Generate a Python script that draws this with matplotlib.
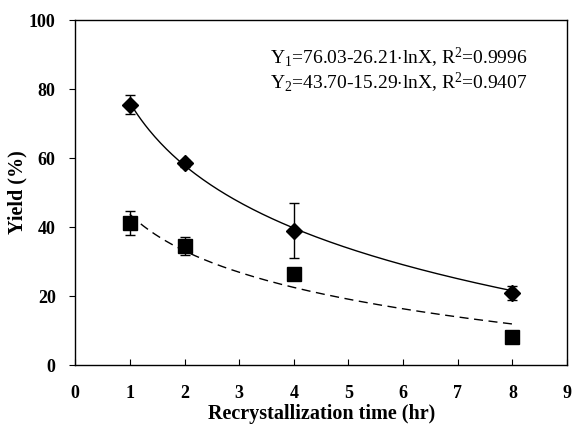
import numpy as np
import matplotlib
matplotlib.use("Agg")
import matplotlib.pyplot as plt

# measured points
time_hr = [1, 2, 4, 8]
yield_1 = [75.5, 58.5, 39.0, 21.0]
err_1 = [2.8, 1.0, 8.0, 2.0]
yield_2 = [41.2, 34.5, 26.3, 8.0]
err_2 = [3.5, 2.5, 1.2, 0.6]

# log fits shown on the chart
fit_1 = (76.03, 26.21)
fit_2 = (43.70, 15.29)

xticks = list(range(0, 10))
yticks = [0, 20, 40, 60, 80, 100]

plt.rcParams["font.family"] = ["Liberation Serif", "DejaVu Serif"]
plt.rcParams["mathtext.fontset"] = "custom"
plt.rcParams["mathtext.rm"] = "Liberation Serif"
plt.rcParams["mathtext.it"] = "Liberation Serif:italic"

fig = plt.figure(figsize=(5.74, 4.26), dpi=100)
ax = fig.add_axes([0.131, 0.143, 0.857, 0.81])

xs = np.linspace(1, 8, 200)
ax.plot(xs, fit_1[0] - fit_1[1] * np.log(xs), color="black", lw=1.0)
ax.plot(xs, fit_2[0] - fit_2[1] * np.log(xs), color="black", lw=1.0,
        dashes=(6.5, 4))

ax.errorbar(time_hr, yield_1, yerr=err_1, fmt="D", color="black",
            ms=8.5, capsize=3.5, elinewidth=1.0, capthick=1.0, zorder=3)
ax.errorbar(time_hr, yield_2, yerr=err_2, fmt="s", color="black",
            ms=9.5, capsize=3.5, elinewidth=1.0, capthick=1.0, zorder=3)

ax.text(0.396, 0.89, "Y$_\\mathrm{1}$=76.03-26.21$\\cdot$lnX, R$^\\mathrm{2}$=0.9996",
        transform=ax.transAxes, fontsize=14, va="center")
ax.text(0.396, 0.817, "Y$_\\mathrm{2}$=43.70-15.29$\\cdot$lnX, R$^\\mathrm{2}$=0.9407",
        transform=ax.transAxes, fontsize=14, va="center")

ax.set_xlim(0, 9)
ax.set_ylim(0, 100)
ax.set_xticks(xticks)
ax.set_yticks(yticks)
ax.tick_params(axis="x", direction="in", length=4, pad=14)
ax.tick_params(axis="y", direction="out", length=4, pad=10)
for lab in ax.get_xticklabels() + ax.get_yticklabels():
    lab.set_fontweight("bold")
    lab.set_fontsize(13)

ax.set_xlabel("Recrystallization time (hr)", fontsize=14.5, fontweight="bold",
              labelpad=2)
ax.set_ylabel("Yield (%)", fontsize=14.5, fontweight="bold", labelpad=1)

for s in ax.spines.values():
    s.set_linewidth(1.0)

fig.savefig("out.png", dpi=100)
